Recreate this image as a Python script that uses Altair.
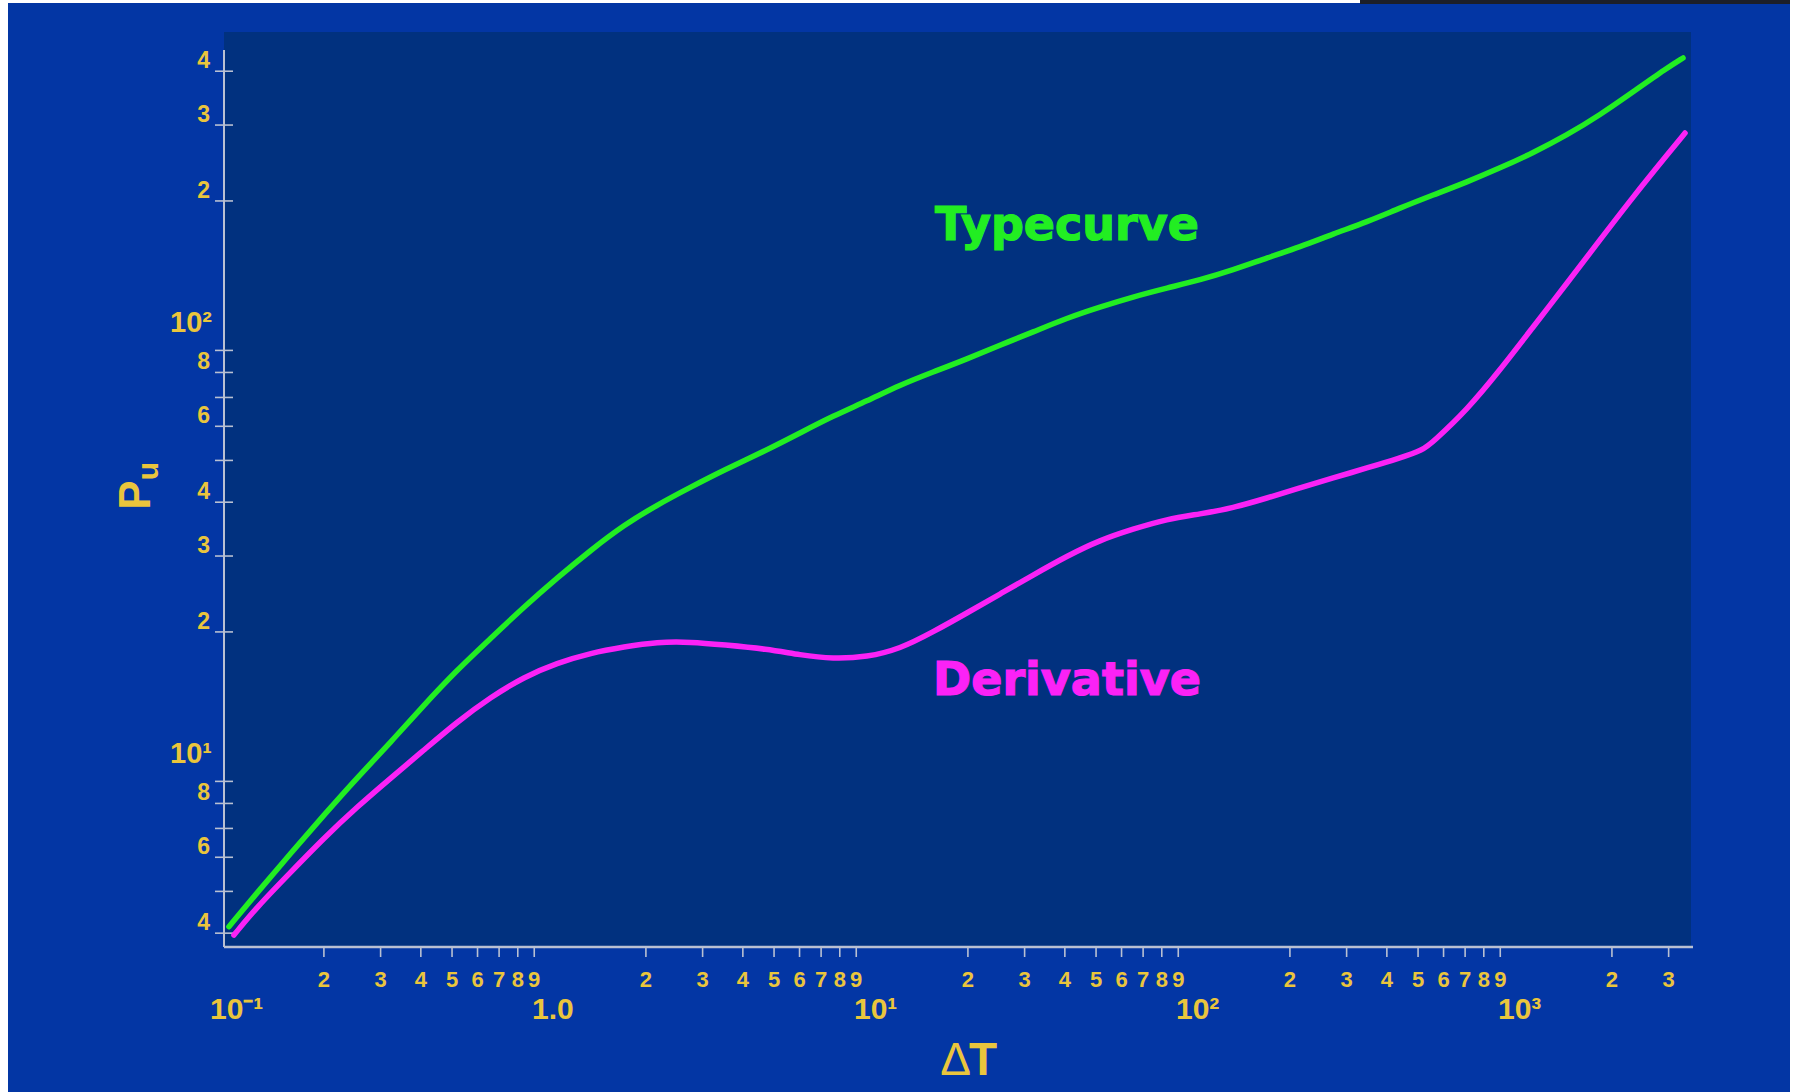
import altair as alt
import pandas as pd

# ---- curve values read as (ΔT, Pu) pairs ----
typecurve_dt = [0.1014, 0.1239, 0.1581, 0.2001, 0.2534, 0.3231, 0.409, 0.5179, 0.6607, 0.8364,
                1.059, 1.351, 1.71, 2.165, 2.761, 3.495, 4.754, 6.019, 7.621, 9.718,
                12.3, 15.58, 19.87, 25.16, 31.85, 40.62, 51.43, 65.12, 83.04, 105.1,
                133.1, 169.7, 214.9, 272.2, 347.0, 439.5, 556.3, 709.4, 898.3, 1137,
                1451, 1836, 2325, 2966, 3325]
typecurve_pu = [4.14, 4.96, 6.14, 7.52, 9.17, 11.11, 13.54, 16.32, 19.36, 22.85,
                26.67, 30.99, 35.41, 39.41, 43.39, 47.5, 52.86, 57.88, 63.39, 68.68,
                74.82, 80.19, 85.97, 92.6, 99.28, 107.0, 113.5, 119.8, 125.6, 131.1,
                138.3, 147.5, 156.4, 167.6, 178.8, 192.6, 206.4, 221.3, 238.5, 258.4,
                284.4, 316.5, 358.0, 406.9, 429.3]

derivative_dt = [0.1051, 0.1239, 0.1581, 0.2001, 0.2534, 0.3231, 0.409, 0.5179, 0.6607, 0.8364,
                 1.059, 1.351, 1.71, 2.165, 2.761, 3.495, 4.754, 6.019, 7.621, 9.718,
                 12.3, 15.58, 19.87, 25.16, 31.85, 40.62, 51.43, 65.12, 83.04, 105.1,
                 133.1, 169.7, 214.9, 272.2, 347.0, 439.5, 517.9, 556.3, 709.4, 898.3,
                 1137, 1451, 1836, 2325, 2966, 3373]
derivative_pu = [3.96, 4.6, 5.55, 6.65, 7.85, 9.17, 10.64, 12.36, 14.13, 15.72,
                 16.94, 17.88, 18.46, 18.96, 18.96, 18.66, 18.26, 17.68, 17.31, 17.49,
                 18.26, 19.99, 22.13, 24.49, 27.1, 30.01, 32.68, 34.65, 36.57, 37.55,
                 38.78, 40.9, 43.16, 45.52, 48.03, 50.66, 52.86, 55.2, 65.49, 81.04,
                 101.9, 129.0, 162.4, 204.3, 255.6, 287.5]

# ---- axis ticks and labels ----
x_minor_ticks = [0.2, 0.3, 0.4, 0.5, 0.6, 0.7, 0.8, 0.9,
                 2, 3, 4, 5, 6, 7, 8, 9,
                 20, 30, 40, 50, 60, 70, 80, 90,
                 200, 300, 400, 500, 600, 700, 800, 900,
                 2000, 3000]
x_minor_labels = ["2", "3", "4", "5", "6", "7", "8", "9",
                  "2", "3", "4", "5", "6", "7", "8", "9",
                  "2", "3", "4", "5", "6", "7", "8", "9",
                  "2", "3", "4", "5", "6", "7", "8", "9",
                  "2", "3"]
x_major_values = [0.1, 1, 10, 100, 1000]
x_major_labels = ["10\u207b\u00b9", "1.0", "10\u00b9", "10\u00b2", "10\u00b3"]

y_tick_values = [400, 300, 200, 90, 80, 70, 60, 50, 40, 30, 20, 9, 8, 7, 6, 5, 4]
y_minor_values = [400, 300, 200, 80, 60, 40, 30, 20, 8, 6, 4]
y_minor_labels = ["4", "3", "2", "8", "6", "4", "3", "2", "8", "6", "4"]
y_major_values = [100, 10]
y_major_labels = ["10\u00b2", "10\u00b9"]

# ---- styling ----
W, H = 1469, 897
OUTER = "#0336a4"
PLOT = "#01317f"
AXIS = "#b9c0d2"
YELLOW = "#eac53c"
GREEN = "#22ee22"
MAGENTA = "#fb22f6"
FONT = "Liberation Sans"
BOLD_FONT = "DejaVu Sans"

xscale = alt.Scale(type="log", domain=[0.0979, 3571], nice=False)
yscale = alt.Scale(type="log", domain=[3.715, 448], nice=False)

one = pd.DataFrame({"k": [0]})

outer_bg = alt.Chart(one).mark_rect(color=OUTER).encode(
    x=alt.value(-216), x2=alt.value(1566), y=alt.value(-47), y2=alt.value(1042))
top_strip = alt.Chart(one).mark_rect(color="#1c1f2a").encode(
    x=alt.value(1136), x2=alt.value(1566), y=alt.value(-50), y2=alt.value(-46))
plot_bg = alt.Chart(one).mark_rect(color=PLOT).encode(
    x=alt.value(0), x2=alt.value(W - 2), y=alt.value(-18), y2=alt.value(H))

# axis lines
x_domain = alt.Chart(one).mark_rule(color=AXIS, strokeWidth=2.5).encode(
    x=alt.value(0), x2=alt.value(W), y=alt.value(H))
y_domain = alt.Chart(one).mark_rule(color=AXIS, strokeWidth=2).encode(
    x=alt.value(0), y=alt.value(0), y2=alt.value(H))

# ΔT axis: downward ticks, digit labels, decade labels
x_tick_df = pd.DataFrame({"v": x_minor_ticks, "t": x_minor_labels})
x_ticks = alt.Chart(x_tick_df).mark_rule(color=AXIS, strokeWidth=1.6).encode(
    x=alt.X("v:Q", scale=xscale, axis=None), y=alt.value(H), y2=alt.value(H + 10))
x_minor_text = alt.Chart(x_tick_df).mark_text(
    align="center", baseline="middle", fontSize=22, fontWeight="bold",
    font=FONT, color=YELLOW).encode(
    x=alt.X("v:Q", scale=xscale, axis=None), y=alt.value(H + 33), text="t:N")
x_major_text = alt.Chart(pd.DataFrame({"v": x_major_values, "t": x_major_labels})).mark_text(
    align="left", baseline="middle", dx=-17, fontSize=30, fontWeight="bold",
    font=FONT, color=YELLOW).encode(
    x=alt.X("v:Q", scale=xscale, axis=None), y=alt.value(H + 63), text="t:N")

# Pu axis: cross ticks and labels
y_ticks = alt.Chart(pd.DataFrame({"v": y_tick_values})).mark_rule(
    color=AXIS, strokeWidth=1.6).encode(
    y=alt.Y("v:Q", scale=yscale, axis=None),
    x=alt.value(-9), x2=alt.value(9))
y_minor_text = alt.Chart(pd.DataFrame({"v": y_minor_values, "t": y_minor_labels})).mark_text(
    align="right", baseline="middle", dy=-10, fontSize=23, fontWeight="bold",
    font=FONT, color=YELLOW).encode(
    y=alt.Y("v:Q", scale=yscale, axis=None), x=alt.value(-14), text="t:N")
y_major_text = alt.Chart(pd.DataFrame({"v": y_major_values, "t": y_major_labels})).mark_text(
    align="right", baseline="middle", dy=-8, fontSize=29, fontWeight="bold",
    font=FONT, color=YELLOW).encode(
    y=alt.Y("v:Q", scale=yscale, axis=None), x=alt.value(-12), text="t:N")

curves = pd.concat([
    pd.DataFrame({"dt": typecurve_dt, "pu": typecurve_pu, "curve": "Typecurve"}),
    pd.DataFrame({"dt": derivative_dt, "pu": derivative_pu, "curve": "Derivative"}),
])

lines = alt.Chart(curves).mark_line(
    interpolate="basis", strokeWidth=5.5, strokeCap="round").encode(
    x=alt.X("dt:Q", scale=xscale, axis=None),
    y=alt.Y("pu:Q", scale=yscale, axis=None),
    color=alt.Color("curve:N", scale=alt.Scale(domain=["Typecurve", "Derivative"],
                                               range=[GREEN, MAGENTA]), legend=None),
    detail="curve:N",
)

curve_labels = alt.Chart(pd.DataFrame({
    "dt": [40.6, 40.6], "pu": [162.3, 14.29],
    "t": ["Typecurve", "Derivative"]})).mark_text(
    align="center", baseline="alphabetic", fontSize=46, fontWeight="bold",
    font=BOLD_FONT, strokeWidth=1.2).encode(
    x=alt.X("dt:Q", scale=xscale, axis=None),
    y=alt.Y("pu:Q", scale=yscale, axis=None),
    text="t:N",
    color=alt.Color("t:N", scale=alt.Scale(domain=["Typecurve", "Derivative"],
                                           range=[GREEN, MAGENTA]), legend=None),
    stroke=alt.Color("t:N", scale=alt.Scale(domain=["Typecurve", "Derivative"],
                                            range=[GREEN, MAGENTA]), legend=None))

# axis titles: Pu (rotated, with subscript) and ΔT
y_title_p = alt.Chart(one).mark_text(
    text="P", angle=270, align="center", baseline="alphabetic", fontSize=44,
    fontWeight="bold", font=FONT, color=YELLOW).encode(
    x=alt.value(-74), y=alt.value(445))
y_title_u = alt.Chart(one).mark_text(
    text="u", angle=270, align="center", baseline="alphabetic", fontSize=30,
    fontWeight="bold", font=FONT, color=YELLOW).encode(
    x=alt.value(-66), y=alt.value(421))
x_title_delta = alt.Chart(one).mark_text(
    text="\u0394", align="right", baseline="alphabetic", fontSize=46,
    fontWeight="normal", font=FONT, color=YELLOW).encode(
    x=alt.value(747), y=alt.value(1025))
x_title_t = alt.Chart(one).mark_text(
    text="T", align="left", baseline="alphabetic", fontSize=46,
    fontWeight="bold", font=FONT, color=YELLOW).encode(
    x=alt.value(745), y=alt.value(1025))

chart = alt.layer(
    outer_bg, top_strip, plot_bg, x_domain, y_domain, x_ticks, x_minor_text,
    x_major_text, y_ticks, y_minor_text, y_major_text, lines, curve_labels,
    y_title_p, y_title_u, x_title_delta, x_title_t,
).properties(
    width=W, height=H,
    autosize=alt.AutoSizeParams(type="none"),
    padding={"left": 224, "top": 50, "right": 106, "bottom": 145},
    background="white",
).configure_view(stroke=None)

chart.save("out.html", embed_options={"renderer": "svg", "actions": False})
